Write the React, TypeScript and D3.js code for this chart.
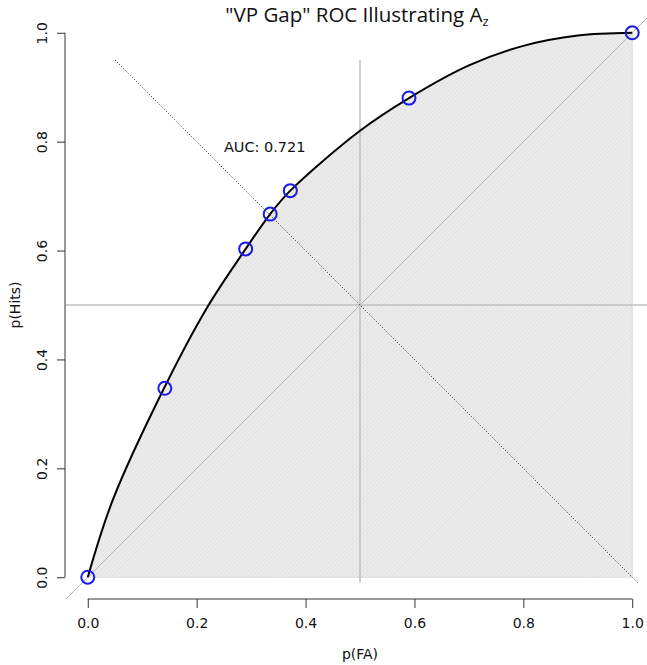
import { useEffect, useRef } from 'react'
import * as d3 from 'd3'

// ROC curve (p(FA), p(Hits))
const curveFA = [0, 0.046, 0.14, 0.219, 0.29, 0.335, 0.372, 0.5, 0.59, 0.7, 0.8, 0.9, 1]
const curveHits = [0, 0.142, 0.347, 0.495, 0.603, 0.667, 0.71, 0.82, 0.88, 0.94, 0.976, 0.995, 1]

// observed points
const pointFA = [0, 0.1415, 0.29, 0.335, 0.372, 0.59, 1]
const pointHits = [0, 0.347, 0.603, 0.667, 0.71, 0.88, 1]

const ticks = [0, 0.2, 0.4, 0.6, 0.8, 1]
const aucLabel = 'AUC: 0.721'

const W = 647
const H = 665

const App = () => {
  const ref = useRef<SVGSVGElement>(null)

  useEffect(() => {
    if (!ref.current) return
    const svg = d3.select(ref.current)
    svg.selectAll('*').remove()

    // plot region like R's (4% extension of [0,1])
    const x = d3.scaleLinear().domain([-0.04, 1.04]).range([66, 654])
    const y = d3.scaleLinear().domain([-0.04, 1.04]).range([599, 11])

    const font = 'DejaVu Sans, sans-serif'

    // hatch pattern for the area under the curve
    const defs = svg.append('defs')
    const pat = defs.append('pattern')
      .attr('id', 'hatch')
      .attr('patternUnits', 'userSpaceOnUse')
      .attr('width', 3)
      .attr('height', 3)
      .attr('patternTransform', 'rotate(-45)')
    pat.append('rect').attr('width', 3).attr('height', 3).attr('fill', '#ececec')
    pat.append('line')
      .attr('x1', 0).attr('y1', 0).attr('x2', 3).attr('y2', 0)
      .attr('stroke', '#d8d8d8').attr('stroke-width', 1)

    const pts: [number, number][] = curveFA.map((d, i) => [d, curveHits[i]])
    const smooth = d3.curveCatmullRom.alpha(0.5)

    const area = d3.area<[number, number]>()
      .x(d => x(d[0]))
      .y0(y(0))
      .y1(d => y(d[1]))
      .curve(smooth)

    svg.append('path')
      .datum(pts)
      .attr('d', area)
      .attr('fill', 'url(#hatch)')
      .attr('stroke', '#dcdcdc')
      .attr('stroke-width', 1)

    // reference lines
    svg.append('line')
      .attr('x1', x(-0.04)).attr('y1', y(-0.04))
      .attr('x2', x(1.04)).attr('y2', y(1.04))
      .attr('stroke', '#b4b4b4').attr('stroke-width', 1)

    svg.append('line')
      .attr('x1', x(-0.04)).attr('y1', y(0.5))
      .attr('x2', x(1.04)).attr('y2', y(0.5))
      .attr('stroke', '#c0c0c0').attr('stroke-width', 1.5)

    svg.append('line')
      .attr('x1', x(0.5)).attr('y1', y(-0.01))
      .attr('x2', x(0.5)).attr('y2', y(0.95))
      .attr('stroke', '#c0c0c0').attr('stroke-width', 1.5)

    svg.append('line')
      .attr('x1', x(0.05)).attr('y1', y(0.95))
      .attr('x2', x(1.01)).attr('y2', y(-0.01))
      .attr('stroke', '#222').attr('stroke-width', 1)
      .attr('stroke-dasharray', '1,2')

    // ROC curve
    const line = d3.line<[number, number]>()
      .x(d => x(d[0]))
      .y(d => y(d[1]))
      .curve(smooth)

    svg.append('path')
      .datum(pts)
      .attr('d', line)
      .attr('fill', 'none')
      .attr('stroke', '#000')
      .attr('stroke-width', 2)

    // observed points
    svg.selectAll('.pt')
      .data(pointFA)
      .enter()
      .append('circle')
      .attr('class', 'pt')
      .attr('cx', d => x(d))
      .attr('cy', (d, i) => y(pointHits[i]))
      .attr('r', 6.5)
      .attr('fill', 'none')
      .attr('stroke', '#1a1ae6')
      .attr('stroke-width', 2)

    // AUC label
    svg.append('text')
      .attr('x', x(0.325))
      .attr('y', y(0.79))
      .attr('dy', '0.35em')
      .attr('text-anchor', 'middle')
      .style('font-family', font)
      .style('font-size', '14.5px')
      .style('fill', '#111')
      .text(aucLabel)

    // x axis
    const xAxis = svg.append('g')
      .attr('transform', `translate(0,599)`)
      .call(d3.axisBottom(x).tickValues(ticks).tickFormat(d3.format('.1f')).tickSize(9).tickPadding(10).tickSizeOuter(0))
    xAxis.select('.domain').attr('d', `M${x(0)},0H${x(1)}`).attr('stroke', '#333')
    xAxis.selectAll('line').attr('stroke', '#333')
    xAxis.selectAll('text')
      .style('font-family', font)
      .style('font-size', '14px')
      .style('fill', '#111')

    // y axis with rotated labels
    const yAxis = svg.append('g')
      .attr('transform', `translate(65,0)`)
      .call(d3.axisLeft(y).tickValues(ticks).tickFormat(d3.format('.1f')).tickSize(8).tickSizeOuter(0))
    yAxis.select('.domain').attr('d', `M0,${y(0)}V${y(1)}`).attr('stroke', '#333')
    yAxis.selectAll('line').attr('stroke', '#333')
    yAxis.selectAll('text')
      .attr('x', null)
      .attr('dy', null)
      .attr('text-anchor', 'middle')
      .attr('transform', 'translate(-22,0) rotate(-90)')
      .attr('dominant-baseline', 'middle')
      .style('font-family', font)
      .style('font-size', '14px')
      .style('fill', '#111')

    // axis titles
    svg.append('text')
      .attr('x', x(0.5))
      .attr('y', 654)
      .attr('dy', '0.35em')
      .attr('text-anchor', 'middle')
      .style('font-family', font)
      .style('font-size', '14px')
      .style('fill', '#111')
      .text('p(FA)')

    svg.append('text')
      .attr('transform', `translate(15,${y(0.5)}) rotate(-90)`)
      .attr('dy', '0.35em')
      .attr('text-anchor', 'middle')
      .style('font-family', font)
      .style('font-size', '14px')
      .style('fill', '#111')
      .text('p(Hits)')

    // title with subscript
    const title = svg.append('text')
      .attr('x', 357)
      .attr('y', 15)
      .attr('dy', '0.35em')
      .attr('text-anchor', 'middle')
      .style('font-family', 'Open Sans, sans-serif')
      .style('font-size', '20.5px')
      .style('fill', '#111')
    title.append('tspan').text('"VP Gap" ROC Illustrating A')
    title.append('tspan').attr('dy', 4).style('font-size', '13px').text('z')
  }, [])

  return (
    <svg
      ref={ref}
      width={W}
      height={H}
      style={{ position: 'absolute', left: 0, top: 0, background: '#fff' }}
    />
  )
}

export default App
